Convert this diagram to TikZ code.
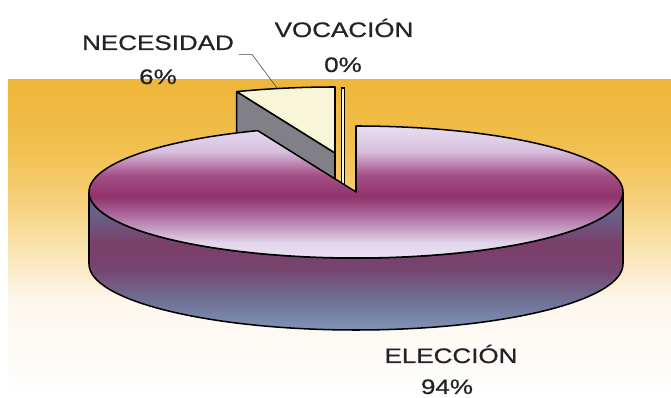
\documentclass[tikz,border=0pt]{standalone}
\usepackage{xcolor}
\usepackage{fontspec}
\setmainfont{Liberation Sans}
\newfontfamily\labelfont[FakeBold=0.6]{Liberation Sans}
\usepackage{tikz}
\usetikzlibrary{positioning}

\definecolor{bandorange}{RGB}{238,182,58}
\definecolor{wedgecream}{RGB}{248,245,216}
\definecolor{cutgray}{RGB}{128,128,134}
\definecolor{labelink}{RGB}{34,34,40}

\pgfdeclareverticalshading{bandfade}{100bp}{color(0bp)=(white); color(25bp)=(white);
  color(40.4bp)=(rgb,255:red,253;green,246;blue,236); color(48.3bp)=(rgb,255:red,250;green,228;blue,178);
  color(56.1bp)=(rgb,255:red,246;green,208;blue,122); color(64bp)=(rgb,255:red,241;green,192;blue,80);
  color(74bp)=(bandorange); color(100bp)=(bandorange)}
\pgfdeclareverticalshading{topfade}{100bp}{color(0bp)=(rgb,255:red,238;green,232;blue,245);
  color(26.1bp)=(rgb,255:red,238;green,232;blue,245); color(33.7bp)=(rgb,255:red,225;green,212;blue,235);
  color(42.4bp)=(rgb,255:red,175;green,115;blue,165); color(50bp)=(rgb,255:red,145;green,50;blue,108);
  color(57.6bp)=(rgb,255:red,165;green,80;blue,135); color(65.9bp)=(rgb,255:red,215;green,190;blue,222);
  color(75bp)=(rgb,255:red,232;green,222;blue,240); color(100bp)=(rgb,255:red,232;green,222;blue,240)}
\pgfdeclareverticalshading{sidefade}{100bp}{color(0bp)=(rgb,255:red,128;green,148;blue,182);
  color(25bp)=(rgb,255:red,128;green,148;blue,182); color(35.9bp)=(rgb,255:red,112;green,112;blue,148);
  color(46.7bp)=(rgb,255:red,118;green,70;blue,112); color(55.8bp)=(rgb,255:red,122;green,62;blue,105);
  color(66.7bp)=(rgb,255:red,105;green,95;blue,135); color(75bp)=(rgb,255:red,100;green,100;blue,140);
  color(100bp)=(rgb,255:red,100;green,100;blue,140)}

\begin{document}
\begin{tikzpicture}[x=0.03cm,y=0.03cm,
  outline/.style={draw=black,line width=1.3pt,line join=round},
  slicetop/.style={outline,shading=topfade},
  sliceside/.style={outline,shading=sidefade},
  wedgetop/.style={outline,fill=wedgecream},
  cutface/.style={outline,fill=cutgray},
  sliver/.style={draw=black,line width=0.9pt,fill=wedgecream},
  lbl/.style={font=\labelfont\fontsize{17.9}{20}\selectfont,text=labelink,xscale=1.24,transform shape,anchor=base},
  leader/.style={draw=black!70,line width=0.5pt}]
\useasboundingbox[fill=white] (0,0) rectangle (671,398);
\shade[shading=bandfade] (8,0) rectangle (671,318);

\coordinate (ctr) at (356,206);
\coordinate (wctr) at (335,245);
\coordinate (vctr) at (343,244);
\coordinate (necrim) at (277,310);

% VOCACION, 0%
\draw[sliver] ([shift={(-1.5,-72)}]vctr) rectangle ([shift={(1.5,66)}]vctr);

% NECESIDAD, pulled out
\draw[cutface] (wctr) -- ++(111.6:267 and 66) -- ++(0,-72) -- ++(98.3,-61.4) -- cycle;
\draw[wedgetop] (wctr) -- ++(0,66) arc[start angle=90,end angle=111.6,x radius=267,y radius=66] -- cycle;

% ELECCION
\draw[sliceside] ([shift={(180:267 and 66)}]ctr) -- ++(0,-72)
  arc[start angle=180,end angle=360,x radius=267,y radius=66] -- ++(0,72)
  arc[start angle=0,end angle=-180,x radius=267,y radius=66] -- cycle;
\draw[slicetop] (ctr) -- ++(111.6:267 and 66)
  arc[start angle=111.6,end angle=450,x radius=267,y radius=66] -- cycle;

\node[lbl] (nec) at (158,348) {NECESIDAD};
\node[lbl] (necpct) at (158,314) {6\%};
\node[lbl] (voc) at (344,361) {VOCACIÓN};
\node[lbl] (vocpct) at (343,326) {0\%};
\node[lbl] (elec) at (451,35) {ELECCIÓN};
\node[lbl] (elecpct) at (447,4) {94\%};
\path[leader] (nec.south east) -- ++(13,0) -- (necrim);
\end{tikzpicture}
\end{document}
